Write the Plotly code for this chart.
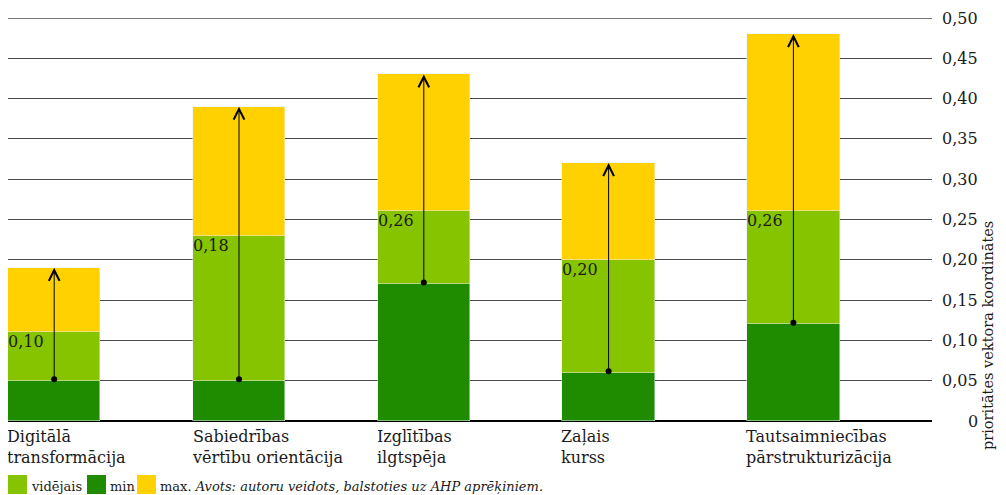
import plotly.graph_objects as go

categories = ["Digitālā<br>transformācija", "Sabiedrības<br>vērtību orientācija",
              "Izglītības<br>ilgtspēja", "Zaļais<br>kurss",
              "Tautsaimniecības<br>pārstrukturizācija"]
min_vals = [0.05, 0.05, 0.17, 0.06, 0.12]
avg_vals = [0.11, 0.23, 0.26, 0.20, 0.26]
max_vals = [0.19, 0.39, 0.43, 0.32, 0.48]
avg_labels = ["0,10", "0,18", "0,26", "0,20", "0,26"]
tick_vals = [0, 0.05, 0.10, 0.15, 0.20, 0.25, 0.30, 0.35, 0.40, 0.45, 0.50]
tick_text = ["0", "0,05", "0,10", "0,15", "0,20", "0,25", "0,30", "0,35", "0,40", "0,45", "0,50"]
legend_names = ["vidējais", "min", "max."]
source_text = "Avots: autoru veidots, balstoties uz AHP aprēķiniem."
y_title = "prioritātes vektora koordinātes"

C_MIN = "#1f8c00"
C_AVG = "#86c400"
C_MAX = "#ffd100"
FONT = "DejaVu Serif"
TXT = "#1a1a1a"
GRID = "#4a4a4a"

OFF = 8  # page body margin
W, H = 998, 487
ML, MR, MT, MB = 0, 74, 10, 74
PW, PH = W - ML - MR, H - MT - MB


def px_x(p):
    return (p - OFF - ML) / PW


def px_y(p):
    return (OFF + MT + PH - p) / PH


xs = list(range(len(categories)))
BW = 0.5

fig = go.Figure()
fig.add_bar(x=xs, y=min_vals, marker_color=C_MIN, width=BW, name="min")
fig.add_bar(x=xs, y=[a - m for a, m in zip(avg_vals, min_vals)], marker_color=C_AVG,
            width=BW, name="vidējais")
fig.add_bar(x=xs, y=[mx - a for mx, a in zip(max_vals, avg_vals)], marker_color=C_MAX,
            width=BW, name="max.")

annotations = []
for i in xs:
    annotations.append(dict(
        x=i, y=max_vals[i], ax=i, ay=min_vals[i], xref="x", yref="y", axref="x", ayref="y",
        text="", showarrow=True, arrowside="end+start", arrowhead=5, startarrowhead=6,
        arrowsize=2.1, startarrowsize=1.5, arrowwidth=1.0, arrowcolor="black"))
    annotations.append(dict(
        x=i - BW / 2, y=avg_vals[i], xref="x", yref="y", text=avg_labels[i],
        showarrow=False, xanchor="left", yanchor="top", xshift=-2, yshift=2,
        font=dict(family=FONT, size=16, color=TXT)))
    annotations.append(dict(
        x=i - BW / 2, y=0, xref="x", yref="paper", text=categories[i],
        showarrow=False, xanchor="left", yanchor="top", align="left", xshift=-3, yshift=-4,
        font=dict(family=FONT, size=16, color=TXT)))

for v, t in zip(tick_vals, tick_text):
    annotations.append(dict(
        x=1, y=v, xref="paper", yref="y", text=t, showarrow=False,
        xanchor="right", yanchor="middle", xshift=48,
        font=dict(family=FONT, size=16, color=TXT)))

annotations.append(dict(
    x=1, y=px_y(336), xref="paper", yref="paper", text=y_title, showarrow=False,
    textangle=-90, xanchor="center", yanchor="middle", xshift=56,
    font=dict(family=FONT, size=14.5, color=TXT)))

shapes = [dict(type="line", xref="paper", yref="y", x0=0, x1=1,
               y0=tick_vals[-1], y1=tick_vals[-1], line=dict(color=GRID, width=1.4),
               layer="below")]

legend_colors = [C_AVG, C_MIN, C_MAX]
sw_x = [8, 87, 137]
for k, (nm, col) in enumerate(zip(legend_names, legend_colors)):
    shapes.append(dict(type="rect", xref="paper", yref="paper",
                       x0=px_x(sw_x[k]), x1=px_x(sw_x[k] + 19),
                       y0=px_y(494), y1=px_y(475), fillcolor=col, line_width=0))
    txt = nm if k < 2 else nm + " <i>" + source_text + "</i>"
    annotations.append(dict(
        x=px_x(sw_x[k] + 21), y=px_y(486), xref="paper", yref="paper", text=txt,
        showarrow=False, xanchor="left", yanchor="middle",
        font=dict(family=FONT, size=13, color=TXT)))

fig.update_layout(
    width=W, height=H, margin=dict(l=ML, r=MR, t=MT, b=MB),
    barmode="stack", bargap=0, showlegend=False,
    plot_bgcolor="white", paper_bgcolor="white",
    xaxis=dict(range=[-0.25, 4.75], showticklabels=False, showgrid=False,
               zeroline=False, ticks=""),
    yaxis=dict(range=[0, 0.5], tickvals=tick_vals, showticklabels=False,
               showgrid=True, gridcolor=GRID, gridwidth=1.4,
               zeroline=True, zerolinecolor="black", zerolinewidth=1.5),
    annotations=annotations, shapes=shapes,
)

fig.write_html("out.html")
